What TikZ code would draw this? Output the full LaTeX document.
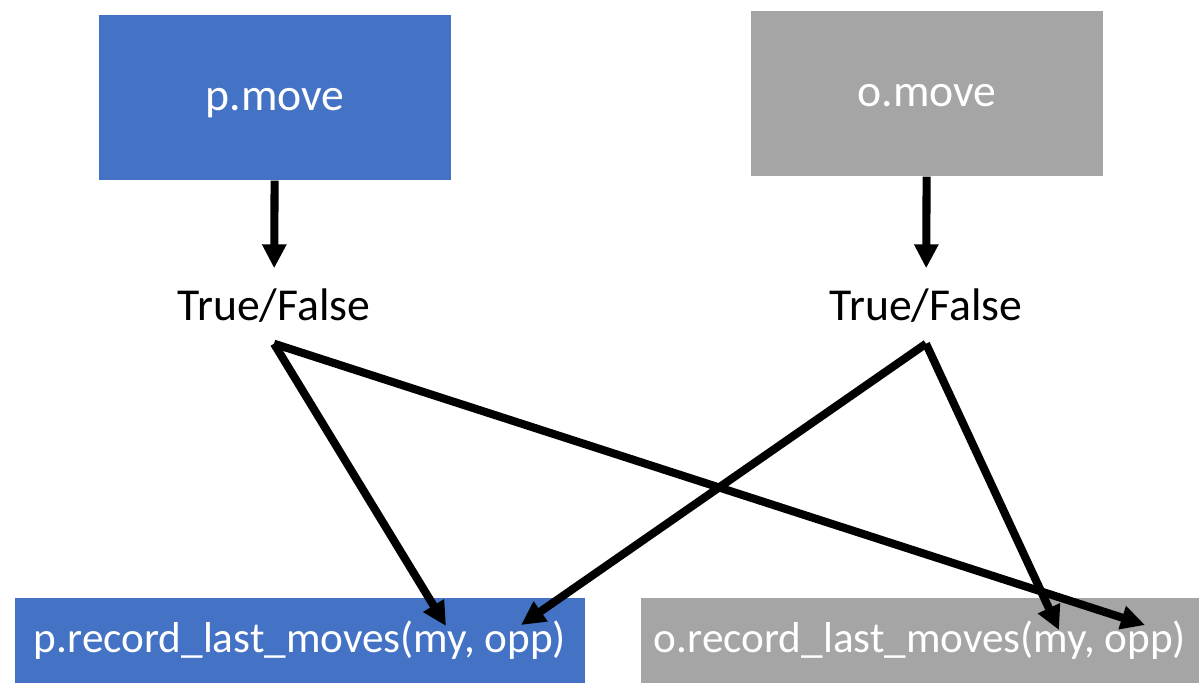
\documentclass[tikz,border=0pt]{standalone}
\usepackage{fontspec}
\setmainfont{Carlito}
\usetikzlibrary{arrows.meta}

\definecolor{pblue}{HTML}{4472C4}
\definecolor{ogray}{HTML}{A5A5A5}

\begin{document}
\begin{tikzpicture}[
  movebox/.style={fill=#1, text=white, minimum width=3.52cm, minimum height=1.65cm,
    text height=0.45cm, text depth=0.2cm, font=\fontsize{13}{15}\selectfont},
  recbox/.style={fill=#1, text=white, minimum height=0.85cm, inner sep=0pt,
    font=\fontsize{12.3}{14}\selectfont},
  result/.style={inner sep=0pt, minimum height=0.74cm, font=\fontsize{13}{15}\selectfont},
  link/.style={line width=2.3pt, -{Triangle[width=0.23cm, length=0.24cm]}}
]

\useasboundingbox (0,0) rectangle (11.99,6.83);

% Move boxes
\node[movebox=pblue] (pmove) at (2.75,5.855) {p.move};
\node[movebox=ogray] (omove) at (9.27,5.895) {o.move};

% Results of the moves
\node[result] (ptf) at (2.74,3.77) {True/False};
\node[result] (otf) at (9.26,3.77) {True/False};

% Record boxes
\node[recbox=pblue, minimum width=5.70cm] (prec) at (3.00,0.425) {p.record\_last\_moves(my, opp)};
\node[recbox=ogray, minimum width=5.58cm] (orec) at (9.20,0.425) {o.record\_last\_moves(my, opp)};

% Arrow ends inside the record boxes
\coordinate (pmy) at (4.46,0.57);
\coordinate (popp) at (5.21,0.58);
\coordinate (omy) at (10.59,0.53);
\coordinate (oopp) at (11.45,0.58);

% Arrows
\draw[link] (pmove) -- (ptf);
\draw[link] (omove) -- (otf);
\draw[link] (ptf.south) -- (pmy);
\draw[link] (ptf.south) -- (oopp);
\draw[link] (otf.south) -- (popp);
\draw[link] (otf.south) -- (omy);

\end{tikzpicture}
\end{document}
